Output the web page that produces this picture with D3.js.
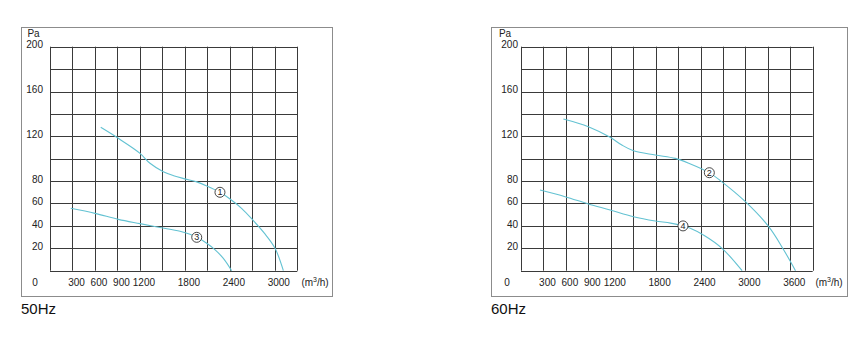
<!DOCTYPE html>
<html>
<head>
<meta charset="utf-8">
<script src="https://cdn.jsdelivr.net/npm/d3@7"></script>
<style>
  html, body { margin: 0; padding: 0; background: #fff; }
  svg { display: block; font-family: "Liberation Sans", Arial, sans-serif; }
</style>
</head>
<body>
<svg id="chart" width="862" height="341"></svg>
<script>
// Fan performance curves: static pressure (Pa) vs. air flow (m3/h)

// 50 Hz panel
const flow50Max = 3300;
const flow50Ticks = [300, 600, 900, 1200, 1800, 2400, 3000];
const curve1Flow = [677, 890, 1201, 1334, 1512, 1650, 1800, 1958, 2100, 2268, 2402, 2560, 2705, 2860, 3003, 3114];
const curve1Pa   = [128, 119.1, 104.8, 95.9, 88.4, 84.8, 82, 79.3, 75.5, 70, 64, 55.5, 45.3, 33.5, 20, 0];
const curve3Flow = [276, 600, 912, 1201, 1468, 1735, 1868, 1958, 2091, 2200, 2313, 2424];
const curve3Pa   = [55.7, 51.2, 45.8, 42, 38.6, 35.2, 32.5, 29.8, 24.5, 18.8, 11, 0];
const label1 = { id: "1", flow: 2268, pa: 70 };
const label3 = { id: "3", flow: 1958, pa: 29.8 };

// 60 Hz panel
const flow60Max = 3900;
const flow60Ticks = [300, 600, 900, 1200, 1800, 2400, 3000, 3600];
const curve2Flow = [566, 901, 1192, 1348, 1504, 1795, 2063, 2250, 2510, 2665, 3000, 3312, 3513, 3670];
const curve2Pa   = [135.4, 128.6, 119.1, 112.2, 107.1, 103.3, 100.3, 95.8, 87.8, 80.4, 61.6, 39.3, 18.5, 0];
const curve4Flow = [254, 589, 901, 1192, 1504, 1795, 2000, 2166, 2263, 2450, 2688, 2956];
const curve4Pa   = [72, 66.1, 59.6, 54.2, 48.2, 44.4, 42.5, 40, 37.9, 31.5, 20, 0];
const label2 = { id: "2", flow: 2518, pa: 87.5 };
const label4 = { id: "4", flow: 2166, pa: 40 };

// Shared pressure axis
const paMax = 200;
const paStep = 20;
const paTicks = [20, 40, 60, 80, 120, 160, 200];

const svg = d3.select("#chart");
const curveColor = "#63c2d2";
const gridColor = "#3a3a3a";

function drawPanel(p) {
  const g = svg.append("g");

  // outer frame
  g.append("rect")
    .attr("x", p.frame[0] + 0.5).attr("y", p.frame[1] + 0.5)
    .attr("width", p.frame[2] - p.frame[0]).attr("height", p.frame[3] - p.frame[1])
    .attr("fill", "none").attr("stroke", "#8c8c8c").attr("stroke-width", 1);

  const x = d3.scaleLinear().domain([0, p.flowMax]).range([p.left, p.right]);
  const y = d3.scaleLinear().domain([0, paMax]).range([p.bottom, p.top]);

  // grid: one column per 300 m3/h, one row per 20 Pa
  const xGrid = d3.range(0, p.flowMax + 1, 300);
  const yGrid = d3.range(0, paMax + 1, paStep);
  g.append("g").selectAll("line").data(xGrid).join("line")
    .attr("x1", d => Math.round(x(d)) + 0.5).attr("x2", d => Math.round(x(d)) + 0.5)
    .attr("y1", y(paMax)).attr("y2", y(0))
    .attr("stroke", gridColor).attr("stroke-width", 1);
  g.append("g").selectAll("line").data(yGrid).join("line")
    .attr("y1", d => Math.round(y(d)) + 0.5).attr("y2", d => Math.round(y(d)) + 0.5)
    .attr("x1", x(0)).attr("x2", x(p.flowMax))
    .attr("stroke", gridColor).attr("stroke-width", 1);

  const font = 10;
  // pressure labels
  g.append("g").selectAll("text").data(paTicks).join("text")
    .attr("x", p.left - p.yLabelGap).attr("y", d => y(d) - 1)
    .attr("text-anchor", "end").attr("dominant-baseline", "middle")
    .attr("font-size", font).attr("fill", "#222")
    .text(d => d);
  g.append("text")
    .attr("x", p.paX).attr("y", p.top - 12)
    .attr("text-anchor", "middle").attr("dominant-baseline", "middle")
    .attr("font-size", font).attr("fill", "#222").text("Pa");

  // flow labels
  const labelY = p.bottom + 12.5;
  g.append("g").selectAll("text").data(p.flowTicks).join("text")
    .attr("x", d => x(d) + 4).attr("y", labelY)
    .attr("text-anchor", "middle").attr("dominant-baseline", "middle")
    .attr("font-size", font).attr("fill", "#222")
    .text(d => d);
  g.append("text")
    .attr("x", p.left - p.zeroGap).attr("y", labelY)
    .attr("text-anchor", "middle").attr("dominant-baseline", "middle")
    .attr("font-size", font).attr("fill", "#222").text("0");
  const unit = g.append("text")
    .attr("x", p.unitX).attr("y", labelY)
    .attr("text-anchor", "middle").attr("dominant-baseline", "middle")
    .attr("font-size", font).attr("fill", "#222");
  unit.append("tspan").text("(m");
  unit.append("tspan").attr("font-size", 7).attr("dy", -3).text("3");
  unit.append("tspan").attr("dy", 3).text("/h)");

  // frequency caption
  g.append("text")
    .attr("x", p.frame[0]).attr("y", 310)
    .attr("dominant-baseline", "middle")
    .attr("font-size", 15).attr("fill", "#111").text(p.caption);

  // performance curves
  const line = d3.line().x(d => x(d[0])).y(d => y(d[1])).curve(d3.curveCatmullRom.alpha(0.5));
  p.curves.forEach(c => {
    g.append("path")
      .attr("d", line(d3.zip(c[0], c[1])))
      .attr("fill", "none").attr("stroke", curveColor).attr("stroke-width", 1.1);
  });

  // numbered curve markers
  p.labels.forEach(l => {
    const cx = x(l.flow), cy = y(l.pa);
    g.append("circle").attr("cx", cx).attr("cy", cy).attr("r", 5)
      .attr("fill", "#fff").attr("stroke", "#333").attr("stroke-width", 0.9);
    g.append("text").attr("x", cx).attr("y", cy + 0.6)
      .attr("text-anchor", "middle").attr("dominant-baseline", "middle")
      .attr("font-size", 9).attr("fill", "#222").text(l.id);
  });
}

drawPanel({
  frame: [21, 27, 332, 296],
  left: 50, right: 297.3, top: 46.7, bottom: 270.7,
  flowMax: flow50Max, flowTicks: flow50Ticks,
  yLabelGap: 7, zeroGap: 15, paX: 33.5, unitX: 315,
  caption: "50Hz",
  curves: [[curve1Flow, curve1Pa], [curve3Flow, curve3Pa]],
  labels: [label1, label3]
});

drawPanel({
  frame: [491, 27, 847, 296],
  left: 521, right: 812.7, top: 46.7, bottom: 270.7,
  flowMax: flow60Max, flowTicks: flow60Ticks,
  yLabelGap: 3, zeroGap: 14, paX: 505, unitX: 829,
  caption: "60Hz",
  curves: [[curve2Flow, curve2Pa], [curve4Flow, curve4Pa]],
  labels: [label2, label4]
});
</script>
</body>
</html>
